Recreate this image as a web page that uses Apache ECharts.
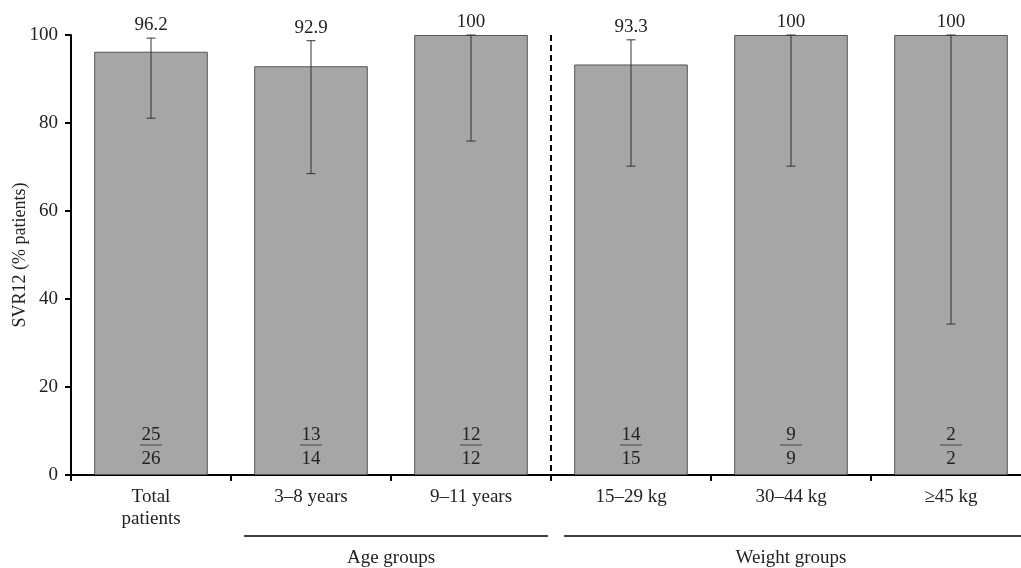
<!DOCTYPE html>
<html>
<head>
<meta charset="utf-8">
<script src="https://cdn.jsdelivr.net/npm/echarts@6/dist/echarts.min.js"></script>
<style>
html,body{margin:0;padding:0;background:#fff;}
#chart{width:1021px;height:568px;}
</style>
</head>
<body>
<div id="chart"></div>
<script>
const categories = ['Total\npatients', '3–8 years', '9–11 years', '15–29 kg', '30–44 kg', '≥45 kg'];
const svr = [96.2, 92.9, 100, 93.3, 100, 100];
const ciLow = [81.1, 68.5, 75.9, 70.2, 70.2, 34.3];
const ciHigh = [99.3, 98.7, 100, 98.9, 100, 100];
const responders = [25, 13, 12, 14, 9, 2];
const totals = [26, 14, 12, 15, 9, 2];
const groupNames = ['Age groups', 'Weight groups'];
const groupStart = [1, 3];
const groupEnd = [2, 5];
const yMin = 0, yMax = 100, yStep = 20;

const FONT = 'Liberation Serif';
const TXT = '#222';
const FS = 19;

const chart = echarts.init(document.getElementById('chart'), null, {renderer: 'canvas'});

const option = {
  animation: false,
  backgroundColor: '#fff',
  grid: {left: 71, right: -10, top: 35, bottom: 93, outerBoundsMode: 'none'},
  xAxis: {
    type: 'category',
    data: categories,
    axisLine: {show: true, onZero: false, lineStyle: {color: '#000', width: 2}},
    axisTick: {show: true, length: 6, lineStyle: {color: '#000', width: 2}},
    axisLabel: {color: TXT, fontFamily: FONT, fontSize: FS, lineHeight: 22, margin: 11, interval: 0},
    splitLine: {show: false}
  },
  yAxis: {
    type: 'value', position: 'left', min: yMin, max: yMax, interval: yStep,
    name: 'SVR12 (% patients)', nameLocation: 'middle', nameGap: 42, nameMoveOverlap: false,
    nameTextStyle: {color: TXT, fontFamily: FONT, fontSize: 18},
    axisLine: {show: true, onZero: false, lineStyle: {color: '#000', width: 2}},
    axisTick: {show: true, inside: false, length: 6, lineStyle: {color: '#000', width: 2}},
    axisLabel: {color: TXT, fontFamily: FONT, fontSize: FS, margin: 13},
    splitLine: {show: false}
  },
  series: [{
    type: 'bar',
    data: svr,
    barWidth: '71%',
    itemStyle: {color: '#a6a6a6', borderColor: '#555', borderWidth: 1}
  }, {
    type: 'custom',
    coordinateSystem: 'cartesian2d',
    clip: false,
    data: categories.map((c, i) => [i, ciLow[i], ciHigh[i], svr[i]]),
    renderItem: function (params, api) {
      const i = api.value(0);
      const lo = api.coord([i, api.value(1)]);
      const hi = api.coord([i, api.value(2)]);
      const top = api.coord([i, Math.max(api.value(2), api.value(3))]);
      const cap = 4.5;
      const st = {stroke: '#333', lineWidth: 1};
      return {
        type: 'group',
        children: [
          {type: 'line', shape: {x1: hi[0], y1: hi[1], x2: lo[0], y2: lo[1]}, style: st},
          {type: 'line', shape: {x1: hi[0] - cap, y1: hi[1], x2: hi[0] + cap, y2: hi[1]}, style: st},
          {type: 'line', shape: {x1: lo[0] - cap, y1: lo[1], x2: lo[0] + cap, y2: lo[1]}, style: st},
          {type: 'text', x: top[0], y: top[1] - 13,
            style: {text: String(svr[i]), fill: TXT, font: FS + 'px "' + FONT + '"', align: 'center', verticalAlign: 'middle'}}
        ]
      };
    },
    z: 5
  }, {
    type: 'custom',
    coordinateSystem: 'cartesian2d',
    clip: false,
    data: categories.map((c, i) => [i, responders[i], totals[i]]),
    renderItem: function (params, api) {
      const i = api.value(0);
      const base = api.coord([i, yMin]);
      const f = FS + 'px "' + FONT + '"';
      return {
        type: 'group',
        children: [
          {type: 'text', x: base[0], y: base[1] - 40,
            style: {text: String(api.value(1)), fill: TXT, font: f, align: 'center', verticalAlign: 'middle'}},
          {type: 'line', shape: {x1: base[0] - 11, y1: base[1] - 30, x2: base[0] + 11, y2: base[1] - 30},
            style: {stroke: '#444', lineWidth: 1}},
          {type: 'text', x: base[0], y: base[1] - 16,
            style: {text: String(api.value(2)), fill: TXT, font: f, align: 'center', verticalAlign: 'middle'}}
        ]
      };
    },
    z: 6
  }, {
    type: 'custom',
    coordinateSystem: 'cartesian2d',
    clip: false,
    data: groupNames.map((g, k) => [groupStart[k], groupEnd[k], k]),
    renderItem: function (params, api) {
      const s = api.value(0), e = api.value(1), k = api.value(2);
      const band = api.size([1, 0])[0];
      const sPt = api.coord([s, yMin]);
      const ePt = api.coord([e, yMin]);
      const topPt = api.coord([s, yMax]);
      const xl = sPt[0] - band / 2;
      const xr = ePt[0] + band / 2;
      const children = [
        {type: 'line', shape: {x1: xl + 13, y1: sPt[1] + 61, x2: xr - 3, y2: sPt[1] + 61},
          style: {stroke: '#000', lineWidth: 1.5}},
        {type: 'text', x: (sPt[0] + ePt[0]) / 2, y: sPt[1] + 83,
          style: {text: groupNames[k], fill: TXT, font: FS + 'px "' + FONT + '"', align: 'center', verticalAlign: 'middle'}}
      ];
      if (k > 0) {
        children.push({type: 'line', shape: {x1: xl, y1: topPt[1], x2: xl, y2: sPt[1] + 7},
          style: {stroke: '#000', lineWidth: 2, lineDash: [6, 4]}});
      }
      return {type: 'group', children: children};
    },
    z: 7
  }]
};
chart.setOption(option);
</script>
</body>
</html>
